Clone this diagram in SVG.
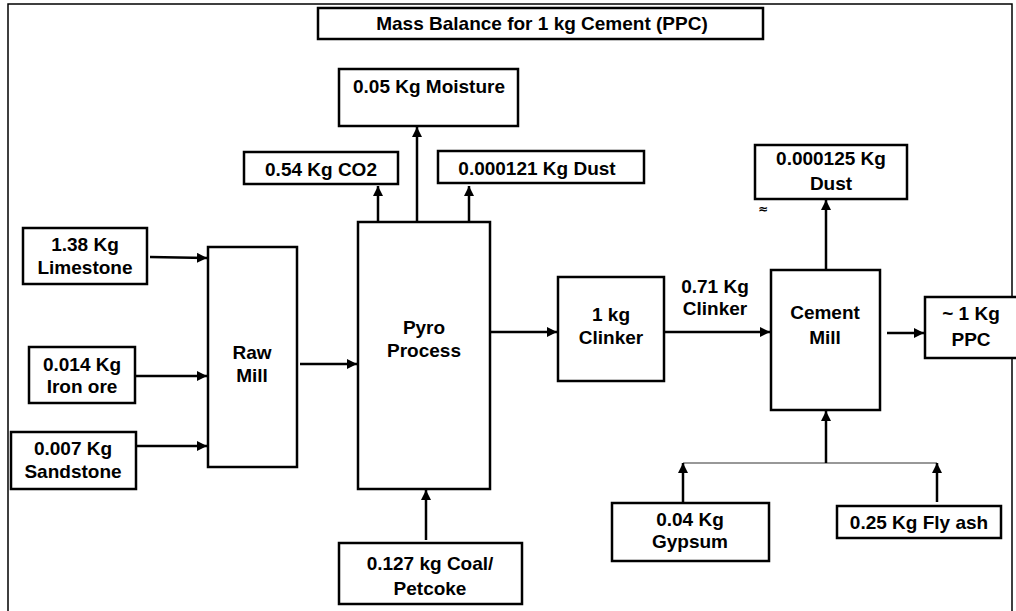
<svg xmlns="http://www.w3.org/2000/svg" width="1016" height="611" viewBox="0 0 1016 611">
<style>
.box{fill:#fff;stroke:#000;stroke-width:2.5}
.t{font-family:"Liberation Sans",Arial,sans-serif;font-weight:bold;font-size:19px;fill:#000;text-anchor:middle}
.c{stroke:#000;stroke-width:2.5;fill:none}
.thin{stroke:#333;stroke-width:1.2;fill:none}
</style>
<defs>
<marker id="ah" viewBox="0 0 10 10" refX="10" refY="5" markerWidth="4" markerHeight="4" orient="auto" markerUnits="strokeWidth">
<path d="M0,0 L10,5 L0,10 z" fill="#000"/>
</marker>
</defs>
<rect x="0" y="0" width="1016" height="611" fill="#fff"/>
<path d="M8,611 V4 H1012 V611" fill="none" stroke="#000" stroke-width="1.5"/>
<g id="title"><rect class="box" x="318" y="8" width="445" height="31"/><text class="t" x="542" y="30" font-size="18.5">Mass Balance for 1 kg Cement (PPC)</text></g>
<g id="moisture"><rect class="box" x="339" y="69" width="179" height="57"/><text class="t" x="429" y="93">0.05 Kg Moisture</text></g>
<g id="co2"><rect class="box" x="244" y="152" width="154" height="32"/><text class="t" x="321" y="176">0.54 Kg CO2</text></g>
<g id="dust1"><rect class="box" x="438" y="151" width="206" height="32"/><text class="t" x="537" y="175">0.000121 Kg Dust</text></g>
<g id="limestone"><rect class="box" x="23" y="228" width="124" height="56"/><text class="t" x="85" y="251">1.38 Kg<tspan x="85" dy="23">Limestone</tspan></text></g>
<g id="ironore"><rect class="box" x="29" y="347" width="106" height="56"/><text class="t" x="82" y="371">0.014 Kg<tspan x="82" dy="22">Iron ore</tspan></text></g>
<g id="sandstone"><rect class="box" x="11" y="432" width="125" height="57"/><text class="t" x="73" y="455">0.007 Kg<tspan x="73" dy="23">Sandstone</tspan></text></g>
<g id="rawmill"><rect class="box" x="208" y="247" width="89" height="220"/><text class="t" x="252" y="359">Raw<tspan x="252" dy="23">Mill</tspan></text></g>
<g id="pyro"><rect class="box" x="358" y="222" width="132" height="267"/><text class="t" x="424" y="334">Pyro<tspan x="424" dy="23">Process</tspan></text></g>
<g id="coal"><rect class="box" x="339" y="543" width="183" height="61"/><text class="t" x="430" y="570" font-size="21">0.127 kg Coal/<tspan x="430" dy="25">Petcoke</tspan></text></g>
<g id="clinker"><rect class="box" x="558" y="277" width="106" height="104"/><text class="t" x="611" y="321" font-size="17.5">1 kg<tspan x="611" dy="23">Clinker</tspan></text></g>
<g id="cementmill"><rect class="box" x="771" y="270" width="109" height="140"/><text class="t" x="825" y="319" font-size="21.5">Cement<tspan x="825" dy="24.5">Mill</tspan></text></g>
<g id="dust2"><rect class="box" x="755" y="145" width="152" height="54"/><text class="t" x="831" y="165">0.000125 Kg<tspan x="831" dy="25">Dust</tspan></text><text x="763" y="213" font-family="DejaVu Sans,sans-serif" font-size="12" font-weight="bold" text-anchor="middle">≈</text></g>
<g id="ppc"><rect class="box" x="925" y="297" width="95" height="61"/><text class="t" x="971" y="320" font-size="21">~ 1 Kg<tspan x="971" dy="26">PPC</tspan></text></g>
<g id="gypsum"><rect class="box" x="612" y="503" width="157" height="58"/><text class="t" x="690" y="526">0.04 Kg<tspan x="690" dy="22">Gypsum</tspan></text></g>
<g id="flyash"><rect class="box" x="837" y="506" width="164" height="32"/><text class="t" x="919" y="529">0.25 Kg Fly ash</text></g>
<g id="connectors">
<path class="c" d="M378,221 V186" marker-end="url(#ah)"/>
<path class="c" d="M417,221 V127" marker-end="url(#ah)"/>
<path class="c" d="M469,221 V186" marker-end="url(#ah)"/>
<path class="c" d="M150,257 L207,258" stroke-width="2" marker-end="url(#ah)"/>
<path class="c" d="M135,376 H207" stroke-width="2" marker-end="url(#ah)"/>
<path class="c" d="M136,446 H207" stroke-width="2" marker-end="url(#ah)"/>
<path class="c" d="M300,364 H357" stroke-width="2" marker-end="url(#ah)"/>
<path class="c" d="M426,540 V490" marker-end="url(#ah)"/>
<path class="c" d="M490,332 H557" stroke-width="2" marker-end="url(#ah)"/>
<path class="c" d="M664,332 H770" stroke-width="2" marker-end="url(#ah)"/>
<text class="t" x="715" y="293" font-size="17.5">0.71 Kg<tspan x="715" dy="22">Clinker</tspan></text>
<path class="c" d="M887,333 H924" stroke-width="2" marker-end="url(#ah)"/>
<path class="c" d="M826,270 V200" marker-end="url(#ah)"/>
<path class="thin" d="M683,463 H937"/>
<path class="c" d="M826,463 V411" marker-end="url(#ah)"/>
<path class="c" d="M683,502 V463" marker-end="url(#ah)"/>
<path class="c" d="M937,502 V463" marker-end="url(#ah)"/>
</g>
</svg>
